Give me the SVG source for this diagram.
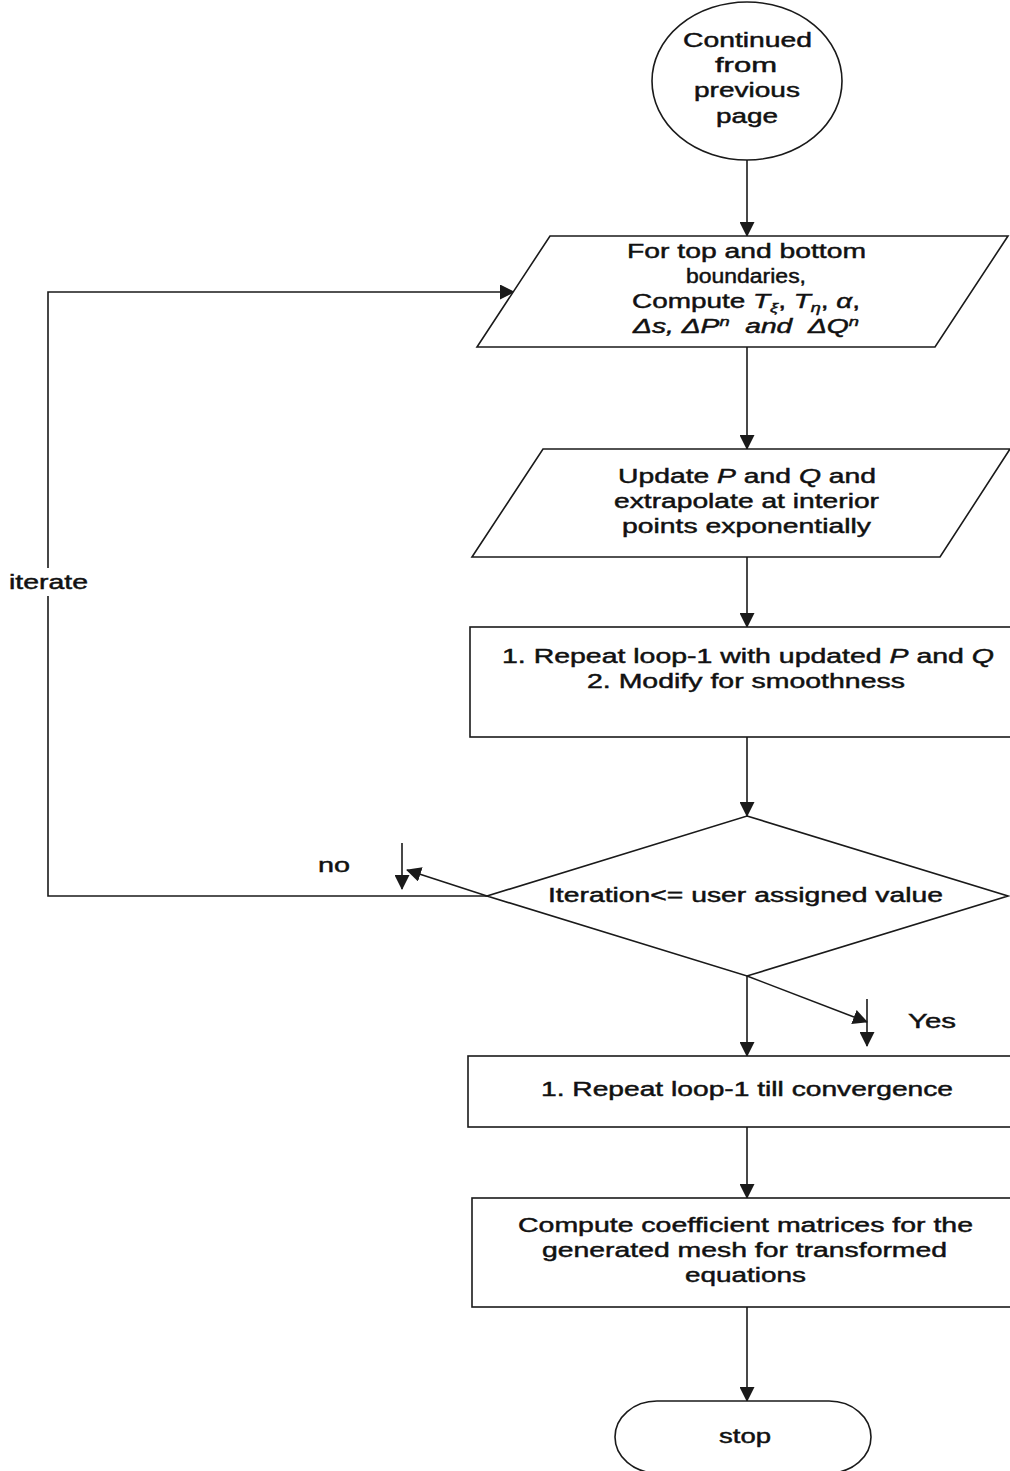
<svg xmlns="http://www.w3.org/2000/svg" width="1010" height="1471" viewBox="0 0 1010 1471">
<style>
.shape{fill:#fff;stroke:#1a1a1a;stroke-width:1.6}
.conn{fill:none;stroke:#1a1a1a;stroke-width:1.6}
text{font-family:"Liberation Sans",Arial,sans-serif;font-size:20px;fill:#111;stroke:#111;stroke-width:0.45}
.i{font-style:italic}
.sub{font-size:13px;baseline-shift:-4px;font-style:italic}
.sup{font-size:13px;baseline-shift:7px;font-style:italic}
</style>
<defs>
<marker id="ah" markerWidth="15" markerHeight="15" refX="14" refY="7.5" orient="auto" markerUnits="userSpaceOnUse">
<path d="M0,0 L15,7.5 L0,15 z" fill="#1a1a1a"/>
</marker>
</defs>
<rect width="1010" height="1471" fill="#fff"/>

<g id="connectors">
<line class="conn" x1="747" y1="160" x2="747" y2="236" marker-end="url(#ah)"/>
<line class="conn" x1="747" y1="347" x2="747" y2="449" marker-end="url(#ah)"/>
<line class="conn" x1="747" y1="557" x2="747" y2="627" marker-end="url(#ah)"/>
<line class="conn" x1="747" y1="737" x2="747" y2="816" marker-end="url(#ah)"/>
<line class="conn" x1="747" y1="976" x2="747" y2="1056" marker-end="url(#ah)"/>
<line class="conn" x1="747" y1="1127" x2="747" y2="1198" marker-end="url(#ah)"/>
<line class="conn" x1="747" y1="1307" x2="747" y2="1401" marker-end="url(#ah)"/>
<path class="conn" d="M487,896 H48 V292 H514" marker-end="url(#ah)"/>
<line class="conn" x1="487" y1="896" x2="407" y2="870" marker-end="url(#ah)"/>
<line class="conn" x1="402" y1="843" x2="402" y2="889" marker-end="url(#ah)"/>
<line class="conn" x1="747" y1="976" x2="867" y2="1022" marker-end="url(#ah)"/>
<line class="conn" x1="867" y1="999" x2="867" y2="1046" marker-end="url(#ah)"/>
<text x="318" y="872" textLength="32" lengthAdjust="spacingAndGlyphs">no</text>
<text x="908" y="1028" textLength="48" lengthAdjust="spacingAndGlyphs">Yes</text>
<rect x="6" y="568" width="86" height="28" fill="#fff"/>
<text x="9" y="589" textLength="79" lengthAdjust="spacingAndGlyphs">iterate</text>
</g>

<g id="start">
<ellipse class="shape" cx="747" cy="81" rx="95" ry="79"/>
<text x="683" y="47" textLength="129" lengthAdjust="spacingAndGlyphs">Continued</text>
<text x="715" y="72" textLength="62" lengthAdjust="spacingAndGlyphs">from</text>
<text x="694" y="97" textLength="106" lengthAdjust="spacingAndGlyphs">previous</text>
<text x="716" y="123" textLength="62" lengthAdjust="spacingAndGlyphs">page</text>
</g>

<g id="boundaries">
<polygon class="shape" points="550,236 1008,236 935,347 477,347"/>
<text x="627" y="258" textLength="239" lengthAdjust="spacingAndGlyphs">For top and bottom</text>
<text x="686" y="283" font-size="21" textLength="120" lengthAdjust="spacingAndGlyphs">boundaries,</text>
<text x="632" y="308" textLength="228" lengthAdjust="spacingAndGlyphs">Compute <tspan class="i">T</tspan><tspan class="sub">ξ</tspan>, <tspan class="i">T</tspan><tspan class="sub">η</tspan>, <tspan class="i">α</tspan>,</text>
<text x="633" y="333" class="i" textLength="226" lengthAdjust="spacingAndGlyphs" xml:space="preserve">Δs, ΔP<tspan class="sup">n</tspan>  and  ΔQ<tspan class="sup">n</tspan></text>
</g>

<g id="update">
<polygon class="shape" points="543,449 1010,449 940,557 472,557"/>
<text x="618" y="483" textLength="258" lengthAdjust="spacingAndGlyphs">Update <tspan class="i">P</tspan> and <tspan class="i">Q</tspan> and</text>
<text x="614" y="508" textLength="265" lengthAdjust="spacingAndGlyphs">extrapolate at interior</text>
<text x="622" y="533" textLength="249" lengthAdjust="spacingAndGlyphs">points exponentially</text>
</g>

<g id="repeat1">
<rect class="shape" x="470" y="627" width="560" height="110"/>
<text x="502" y="663" textLength="492" lengthAdjust="spacingAndGlyphs">1. Repeat loop-1 with updated <tspan class="i">P</tspan> and <tspan class="i">Q</tspan></text>
<text x="587" y="688" textLength="318" lengthAdjust="spacingAndGlyphs">2. Modify for smoothness</text>
</g>

<g id="decision">
<polygon class="shape" points="747,816 1008,896 747,976 487,896"/>
<text x="548" y="902" textLength="395" lengthAdjust="spacingAndGlyphs">Iteration&lt;= user assigned value</text>
</g>

<g id="repeat2">
<rect class="shape" x="468" y="1056" width="560" height="71"/>
<text x="541" y="1096" textLength="412" lengthAdjust="spacingAndGlyphs">1. Repeat loop-1 till convergence</text>
</g>

<g id="coeff">
<rect class="shape" x="472" y="1198" width="560" height="109"/>
<text x="518" y="1232" textLength="455" lengthAdjust="spacingAndGlyphs">Compute coefficient matrices for the</text>
<text x="542" y="1257" textLength="405" lengthAdjust="spacingAndGlyphs">generated mesh for transformed</text>
<text x="685" y="1282" textLength="121" lengthAdjust="spacingAndGlyphs">equations</text>
</g>

<g id="stop">
<rect class="shape" x="615" y="1401" width="256" height="72" rx="42" ry="36"/>
<text x="719" y="1443" textLength="52" lengthAdjust="spacingAndGlyphs">stop</text>
</g>
</svg>
